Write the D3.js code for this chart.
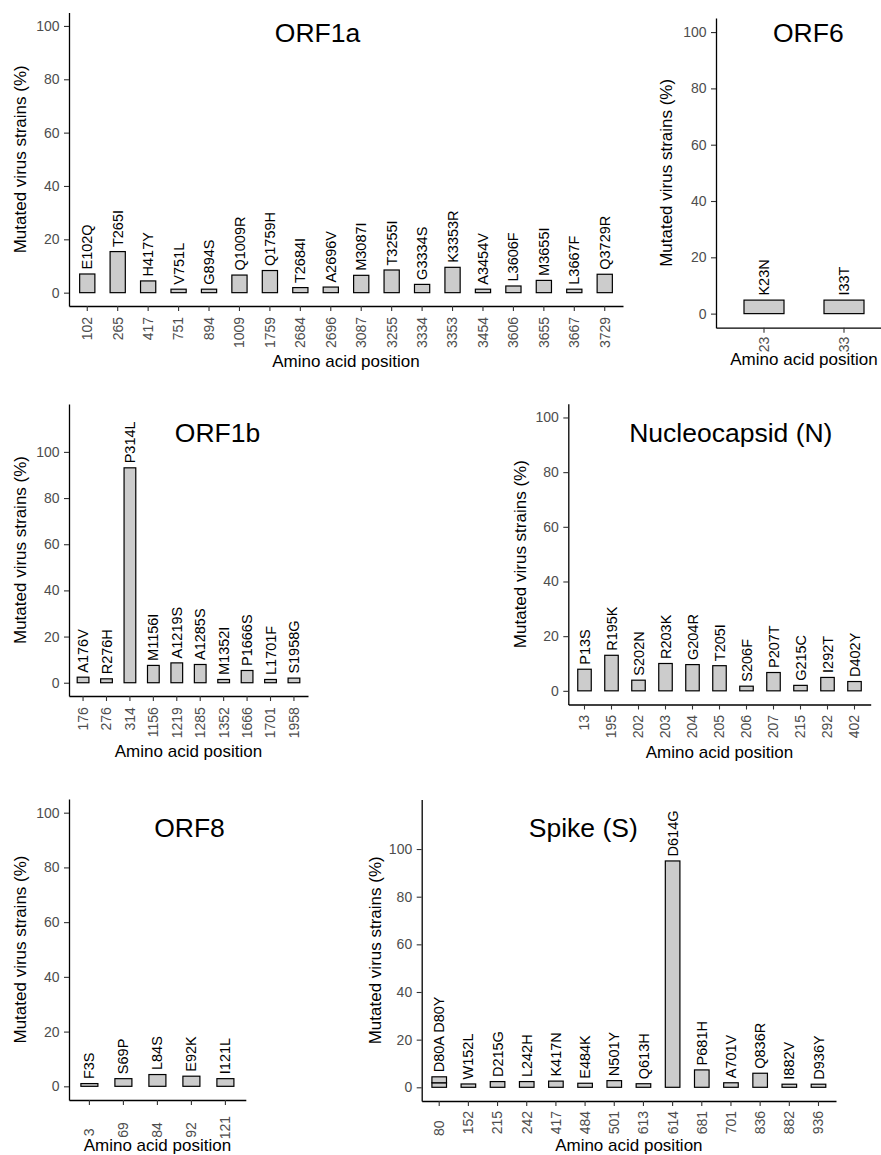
<!DOCTYPE html>
<html><head><meta charset="utf-8">
<script src="https://cdn.jsdelivr.net/npm/d3@7"></script>
<style>
body{margin:0;background:#fff;}
svg{display:block;font-family:"Liberation Sans",Arial,Helvetica,sans-serif;}
</style></head><body>
<svg id="chart" width="881" height="1155"></svg>
<script>
// ---------------- data ----------------
const yTickValues = [0, 20, 40, 60, 80, 100];
const yAxisTitle = "Mutated virus strains (%)";
const xAxisTitle = "Amino acid position";

const orf1aPositions = ["102","265","417","751","894","1009","1759","2684","2696","3087","3255","3334","3353","3454","3606","3655","3667","3729"];
const orf1aMutations = ["E102Q","T265I","H417Y","V751L","G894S","Q1009R","Q1759H","T2684I","A2696V","M3087I","T3255I","G3334S","K3353R","A3454V","L3606F","M3655I","L3667F","Q3729R"];
const orf1aValues = [7.0,15.4,4.4,1.3,1.3,6.6,8.3,1.9,2.1,6.5,8.5,3.1,9.5,1.3,2.5,4.6,1.3,6.9];

const orf6Positions = ["23","33"];
const orf6Mutations = ["K23N","I33T"];
const orf6Values = [4.8,4.8];

const orf1bPositions = ["176","276","314","1156","1219","1285","1352","1666","1701","1958"];
const orf1bMutations = ["A176V","R276H","P314L","M1156I","A1219S","A1285S","M1352I","P1666S","L1701F","S1958G"];
const orf1bValues = [2.4,1.7,93.1,7.5,8.6,7.9,1.4,5.3,1.4,2.0];

const nPositions = ["13","195","202","203","204","205","206","207","215","292","402"];
const nMutations = ["P13S","R195K","S202N","R203K","G204R","T205I","S206F","P207T","G215C","I292T","D402Y"];
const nValues = [7.9,13.0,3.9,10.0,9.6,9.2,1.7,6.7,2.0,4.9,3.4];

const orf8Positions = ["3","69","84","92","121"];
const orf8Mutations = ["F3S","S69P","L84S","E92K","I121L"];
const orf8Values = [1.0,2.8,4.3,3.7,2.8];

const spikePositions = ["80","80","152","215","242","417","484","501","613","614","681","701","836","882","936"];
const spikeMutations = ["D80A","D80Y","W152L","D215G","L242H","K417N","E484K","N501Y","Q613H","D614G","P681H","A701V","Q836R","I882V","D936Y"];
const spikeValues = [1.9,2.5,1.4,2.4,2.4,2.6,1.7,2.8,1.5,95.0,7.3,1.9,5.9,1.3,1.3];

// ---------------- layout ----------------
const panels = [
  {title:"ORF1a", pos:orf1aPositions, mut:orf1aMutations, val:orf1aValues,
   left:69, right:623, top:12.6, bottom:306, dom:[-5,105], tx:317.5, ty:41.7, xlabY:367, ylabX:26, tlGap:10.9, tlK:0},
  {title:"ORF6", pos:orf6Positions, mut:orf6Mutations, val:orf6Values,
   left:716, right:892, top:18, bottom:327.7, dom:[-5,105], tx:808.3, ty:41.7, xlabY:365, ylabX:672, tlGap:9, tlK:0},
  {title:"ORF1b", pos:orf1bPositions, mut:orf1bMutations, val:orf1bValues,
   left:69, right:308, top:404, bottom:696, dom:[-5.75,120.75], tx:217.5, ty:441.7, xlabY:757, ylabX:26, tlGap:11.2, tlK:0},
  {title:"Nucleocapsid (N)", pos:nPositions, mut:nMutations, val:nValues,
   left:568.3, right:870.7, top:403.8, bottom:704.5, dom:[-5,105], tx:730.8, ty:442.3, xlabY:758, ylabX:526, tlGap:10.4, tlK:0},
  {title:"ORF8", pos:orf8Positions, mut:orf8Mutations, val:orf8Values,
   left:69, right:245.8, top:799, bottom:1100, dom:[-5,105], tx:189.5, ty:837.3, xlabY:1150.5, ylabX:26, tlGap:16, tlK:0.8},
  {title:"Spike (S)", pos:spikePositions, mut:spikeMutations, val:spikeValues,
   left:421.7, right:836, top:799.6, bottom:1101, dom:[-5.75,120.75], tx:583.3, ty:837.3, xlabY:1150.5, ylabX:381, tlGap:10, tlK:1.2}
];

const svg = d3.select("#chart");
const TICK_FONT = 14, LABEL_FONT = 14.5, AXTITLE_FONT = 17, TITLE_FONT = 26.5;

panels.forEach(p => {
  const g = svg.append("g");
  const cats = Array.from(new Set(p.pos));
  const x = d3.scaleBand().domain(cats).range([p.left, p.right]).paddingInner(0.5).paddingOuter(0.35);
  const y = d3.scaleLinear().domain(p.dom).range([p.bottom, p.top]);

  // stack rows by position
  const cum = {};
  const rows = p.pos.map((c, i) => {
    const y0 = cum[c] || 0;
    const y1 = y0 + p.val[i];
    cum[c] = y1;
    return {cat:c, name:p.mut[i], y0, y1};
  });
  const labels = cats.map(c => ({
    cat:c,
    text: rows.filter(r => r.cat === c).map(r => r.name).join(" "),
    top: cum[c]
  }));

  // bars
  g.selectAll("rect.bar").data(rows).join("rect")
    .attr("class","bar")
    .attr("x", d => x(d.cat))
    .attr("width", x.bandwidth())
    .attr("y", d => y(d.y1))
    .attr("height", d => y(d.y0) - y(d.y1))
    .attr("fill", "#cccccc")
    .attr("stroke", "#000")
    .attr("stroke-width", 1.2);

  // bar labels
  g.selectAll("text.blab").data(labels).join("text")
    .attr("class","blab")
    .attr("transform", d => `translate(${x(d.cat) + x.bandwidth()/2},${y(d.top) - 4.5}) rotate(-90)`)
    .attr("dy", "0.35em")
    .attr("text-anchor", "start")
    .attr("font-size", LABEL_FONT)
    .attr("fill", "#000")
    .text(d => d.text);

  // y axis
  const ya = g.append("g").attr("transform", `translate(${p.left},0)`)
    .call(d3.axisLeft(y).tickValues(yTickValues).tickSize(5).tickPadding(4.5).tickSizeOuter(0));
  ya.select(".domain").attr("stroke","#000").attr("stroke-width",1.3);
  ya.selectAll(".tick line").attr("stroke","#333").attr("stroke-width",1.1);
  ya.selectAll(".tick text").attr("font-size", TICK_FONT).attr("fill","#4d4d4d")
    .attr("font-family", "Liberation Sans, Arial, sans-serif");

  // x axis
  const xa = g.append("g").attr("transform", `translate(0,${p.bottom})`)
    .call(d3.axisBottom(x).tickSize(5).tickSizeOuter(0));
  xa.select(".domain").attr("stroke","#000").attr("stroke-width",1.3);
  xa.selectAll(".tick line").attr("stroke","#333").attr("stroke-width",1.1);
  const tt = xa.selectAll(".tick text").attr("font-size", TICK_FONT).attr("fill","#4d4d4d")
    .attr("font-family", "Liberation Sans, Arial, sans-serif");
  let widths = [];
  tt.each(function(){ widths.push(this.getComputedTextLength()); });
  const maxW = d3.max(widths);
  tt.each(function(d, i){
    const w = widths[i];
    const topY = p.tlGap + p.tlK * (maxW - w);
    d3.select(this)
      .attr("x", 0).attr("y", 0).attr("dy", "0.35em")
      .attr("text-anchor", "start")
      .attr("transform", `translate(0,${topY + w}) rotate(-90)`);
  });

  // axis titles
  g.append("text")
    .attr("x", (p.left + p.right) / 2).attr("y", p.xlabY)
    .attr("text-anchor","middle").attr("font-size", AXTITLE_FONT).attr("fill","#000")
    .text(xAxisTitle);
  g.append("text")
    .attr("transform", `translate(${p.ylabX},${(p.top + p.bottom) / 2}) rotate(-90)`)
    .attr("text-anchor","middle").attr("font-size", AXTITLE_FONT).attr("fill","#000")
    .text(yAxisTitle);

  // panel title
  g.append("text")
    .attr("x", p.tx).attr("y", p.ty)
    .attr("text-anchor","middle").attr("font-size", TITLE_FONT).attr("fill","#000")
    .text(p.title);
});
</script>
</body></html>
